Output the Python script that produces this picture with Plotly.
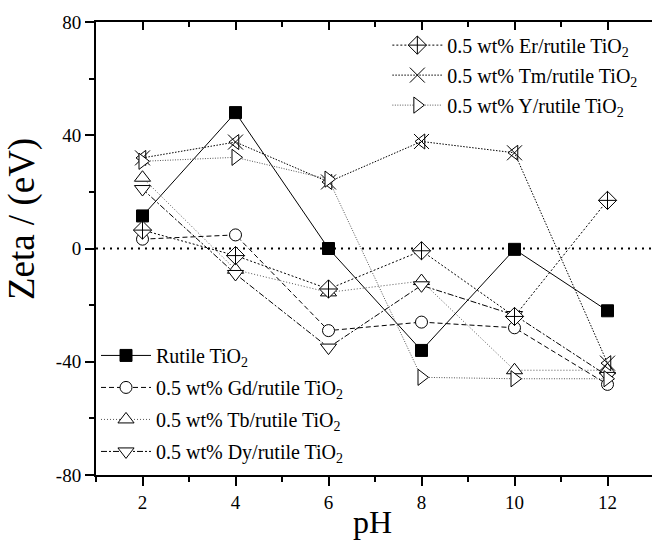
import plotly.graph_objects as go

# pH values at which zeta potential was measured
ph = [2, 4, 6, 8, 10, 12]

# Zeta potential readings for each sample
rutile = [11.5, 48.0, 0.0, -36.0, -0.3, -22.0]
gd = [3.3, 4.8, -29.0, -26.0, -28.0, -48.0]
tb = [25.0, -7.5, -15.5, -11.5, -43.0, -43.0]
dy = [21.0, -9.0, -35.0, -13.0, -23.5, -45.0]
er = [6.5, -2.5, -14.3, -0.8, -24.0, 17.0]
tm = [32.0, 37.6, 23.5, 37.8, 33.8, -40.5]
yt = [30.8, 32.2, 24.5, -45.5, -46.0, -46.0]

# Series names
names = {
    "rutile": "Rutile TiO<sub>2</sub>",
    "gd": "0.5 wt% Gd/rutile TiO<sub>2</sub>",
    "tb": "0.5 wt% Tb/rutile TiO<sub>2</sub>",
    "dy": "0.5 wt% Dy/rutile TiO<sub>2</sub>",
    "er": "0.5 wt% Er/rutile TiO<sub>2</sub>",
    "tm": "0.5 wt% Tm/rutile TiO<sub>2</sub>",
    "y": "0.5 wt% Y/rutile TiO<sub>2</sub>",
}

# Axis ticks
x_ticks = [2, 4, 6, 8, 10, 12]
y_ticks = [-80, -40, 0, 40, 80]
y_tick_text = ["-80", "-40", "0", "40", "80"]

FONT = "'Liberation Serif', 'DejaVu Serif', serif"
BLACK = "black"
GREY = "#555555"

fig = go.Figure()


def add_series(y, name, symbol, dash, legend, size=12, color=BLACK, fill=False,
               lw=1.0, showlegend=True):
    open_sym = symbol.endswith("-open")
    fig.add_trace(go.Scatter(
        x=ph, y=y, name=name, mode="lines+markers",
        legendgroup=name,
        line=dict(color=color, width=lw, dash=dash),
        marker=dict(symbol=symbol, size=size,
                    color=BLACK if (fill or open_sym) else "white",
                    line=dict(color=BLACK, width=1)),
        legend=legend, showlegend=showlegend,
    ))


add_series(rutile, names["rutile"], "square", "solid", "legend2", size=12, fill=True)
add_series(gd, names["gd"], "circle", "5px,3px", "legend2", size=12)
add_series(tb, names["tb"], "triangle-up", "1px,2px", "legend2", size=14, color=GREY)
add_series(dy, names["dy"], "triangle-down", "6px,2px,2px,2px", "legend2", size=14)
add_series(er, names["er"], "diamond-cross", "2px,2px", "legend", size=14)
add_series(tm, names["tm"], "x-thin-open", "1.5px,1.5px", "legend", size=15)
fig.add_trace(go.Scatter(
    x=ph, y=tm, mode="markers", showlegend=False, hoverinfo="skip",
    marker=dict(symbol="triangle-left-open", size=13, color=BLACK,
                line=dict(color=BLACK, width=1)),
))
add_series(yt, names["y"], "triangle-right", "1px,1.5px", "legend", size=14, color=GREY)

# Dotted zero reference line
fig.add_hline(y=0, line=dict(color=BLACK, width=2, dash="2px,5px"), layer="below")

axis_common = dict(
    showline=True, linecolor=BLACK, linewidth=2,
    showgrid=False, zeroline=False,
    tickfont=dict(family=FONT, size=19, color=BLACK),
)

fig.update_layout(
    width=652, height=540,
    margin=dict(l=96, r=0, t=22, b=65),
    plot_bgcolor="white", paper_bgcolor="white",
    font=dict(family=FONT, size=20, color=BLACK),
    xaxis=dict(
        range=[1, 1 + 556 / 46.5],
        tickvals=x_ticks, ticks="outside", ticklen=9, tickwidth=1.5, tickcolor=BLACK,
        minor=dict(dtick=1, tick0=1, ticks="outside", ticklen=5, tickwidth=1.5, tickcolor=BLACK),
        **axis_common,
    ),
    xaxis2=dict(
        overlaying="x", matches="x", side="top",
        showline=True, linecolor=BLACK, linewidth=2,
        showgrid=False, zeroline=False, showticklabels=False,
        tickvals=x_ticks, ticks="inside", ticklen=8, tickwidth=1.5, tickcolor=BLACK,
        minor=dict(dtick=1, tick0=1, ticks="inside", ticklen=5, tickwidth=1.5, tickcolor=BLACK),
    ),
    yaxis=dict(
        range=[-80, 80],
        tickvals=y_ticks, ticktext=y_tick_text,
        ticks="outside", ticklen=9, tickwidth=1.5, tickcolor=BLACK,
        minor=dict(dtick=20, tick0=0, ticks="outside", ticklen=5, tickwidth=1.5, tickcolor=BLACK),
        **axis_common,
    ),
    legend=dict(
        x=0.524, y=0.992, xanchor="left", yanchor="top",
        bgcolor="rgba(0,0,0,0)", borderwidth=0,
        font=dict(family=FONT, size=20, color=BLACK),
        itemwidth=50, tracegroupgap=1,
    ),
    legend2=dict(
        x=0.0, y=0.307, xanchor="left", yanchor="top",
        bgcolor="rgba(0,0,0,0)", borderwidth=0,
        font=dict(family=FONT, size=20, color=BLACK),
        itemwidth=50, tracegroupgap=3,
    ),
    showlegend=True,
)

# Invisible trace to bring up the top axis
fig.add_trace(go.Scatter(x=[None], y=[None], xaxis="x2", showlegend=False, hoverinfo="skip"))

# Axis titles
fig.add_annotation(
    text="Zeta / (eV)", xref="paper", yref="paper",
    x=-0.133, y=0.565, xanchor="center", yanchor="middle",
    textangle=-90, showarrow=False,
    font=dict(family=FONT, size=37, color=BLACK),
)
fig.add_annotation(
    text="pH", xref="paper", yref="paper",
    x=0.498, y=-0.103, xanchor="center", yanchor="middle",
    showarrow=False,
    font=dict(family=FONT, size=32, color=BLACK),
)

fig.write_html("out.html")
